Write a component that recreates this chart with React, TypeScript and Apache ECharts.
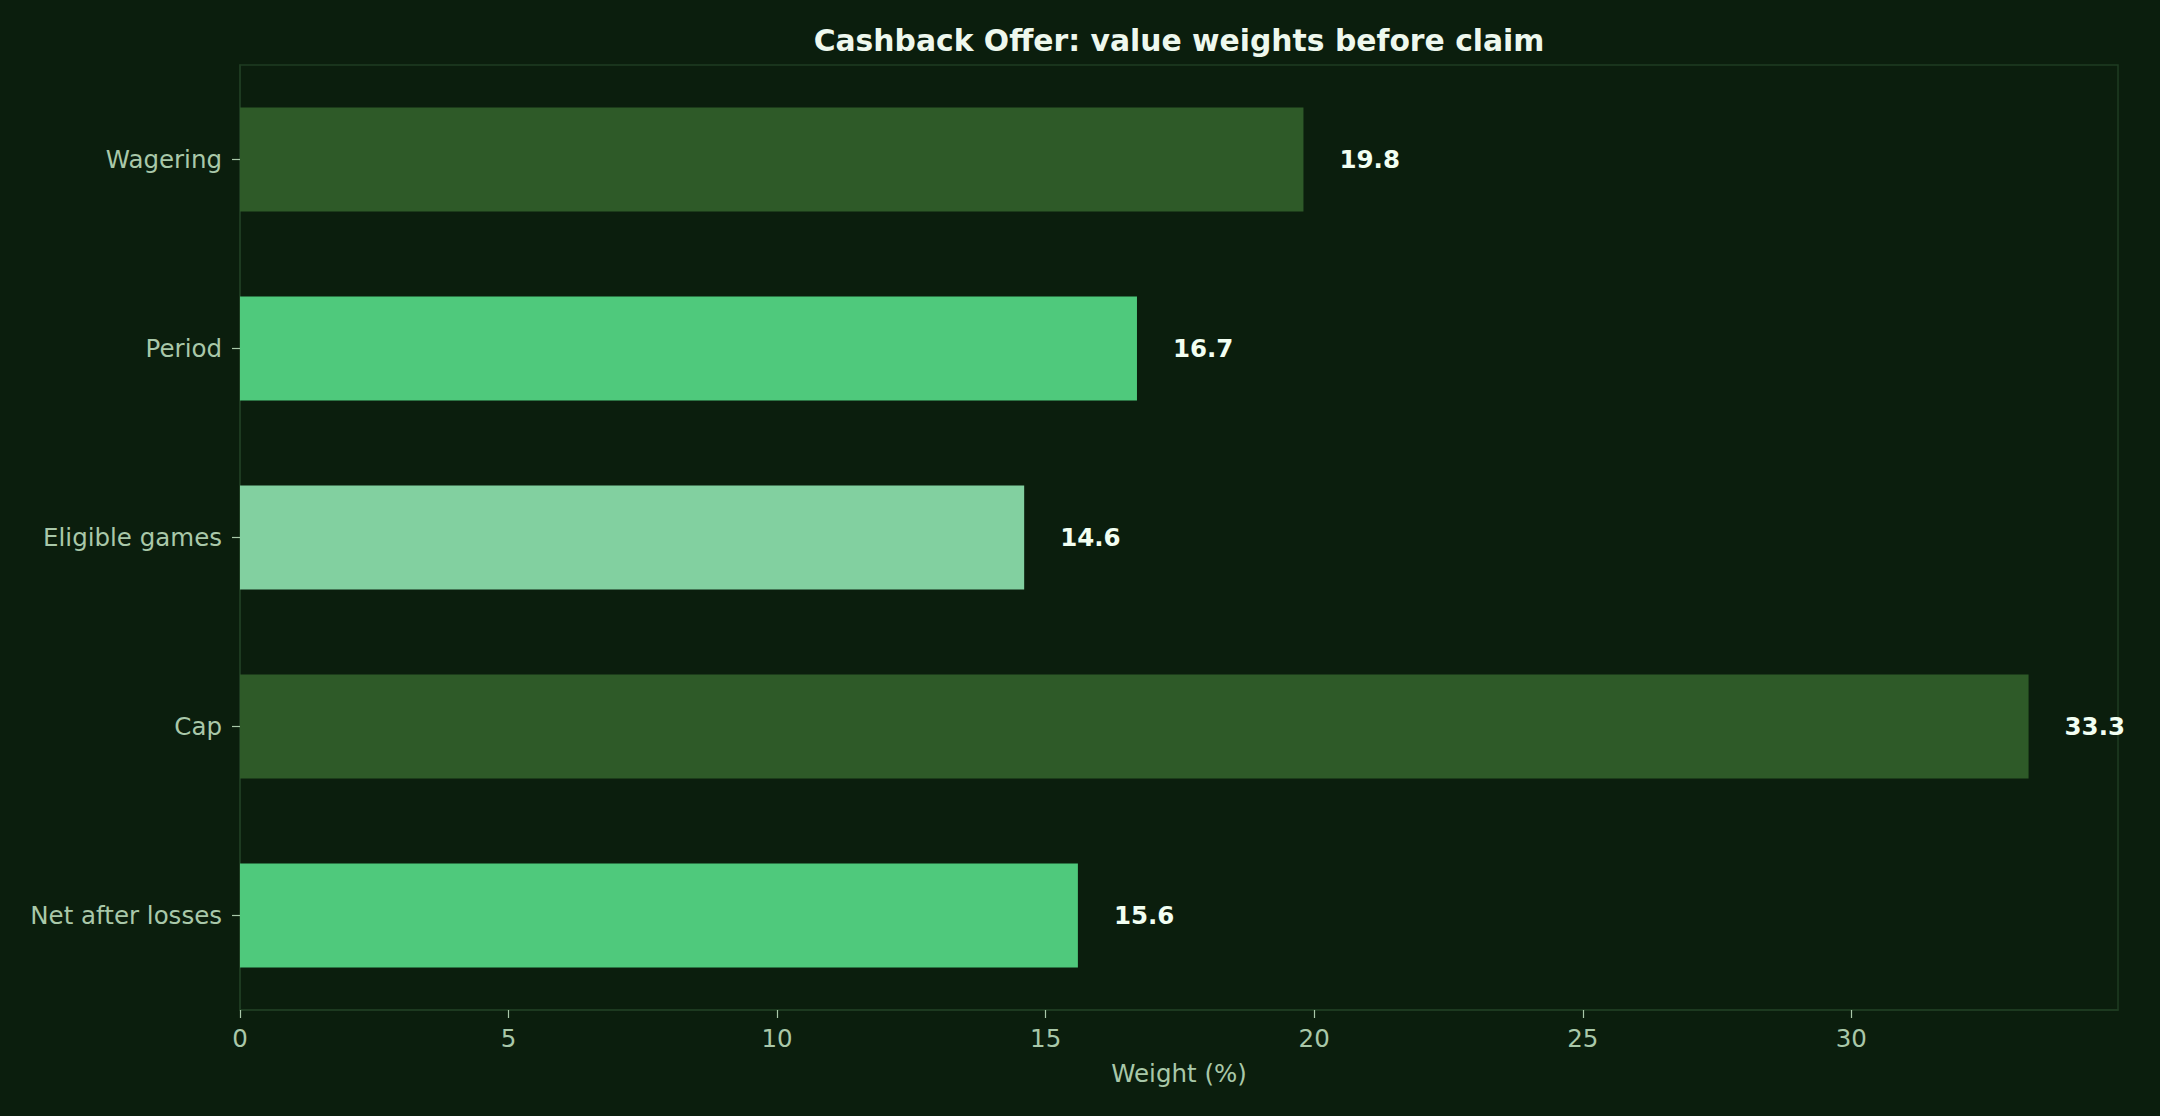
import React, { useEffect, useRef } from 'react';
import * as echarts from 'echarts';

const categories = ['Wagering', 'Period', 'Eligible games', 'Cap', 'Net after losses'];
const weights = [19.8, 16.7, 14.6, 33.3, 15.6];
const barColors = ['#2e5a28', '#4fc97c', '#82d0a0', '#2e5a28', '#4fc97c'];
const xTicks = [0, 5, 10, 15, 20, 25, 30];

const BG = '#0b1e0d';
const SPINE = '#1f3d22';
const TICK_TEXT = '#a9c8a9';
const FONT = '"DejaVu Sans", sans-serif';

const App: React.FC = () => {
  const chartRef = useRef<HTMLDivElement>(null);

  useEffect(() => {
    if (!chartRef.current) return;
    const chart = echarts.init(chartRef.current, undefined, { renderer: 'svg' });

    const option = {
      animation: false,
      backgroundColor: BG,
      textStyle: { fontFamily: FONT },
      title: {
        text: 'Cashback Offer: value weights before claim',
        left: 1174,
        textAlign: 'center',
        top: 20,
        textStyle: {
          color: '#eef8ee',
          fontSize: 29.8,
          fontWeight: 'bold',
          fontFamily: FONT
        }
      },
      grid: {
        left: 240,
        right: 42,
        top: 65,
        bottom: 106,
        show: true,
        borderColor: SPINE,
        borderWidth: 1.5,
        backgroundColor: 'transparent'
      },
      xAxis: {
        type: 'value',
        min: 0,
        max: 34.965,
        name: 'Weight (%)',
        nameLocation: 'middle',
        nameGap: 51,
        nameTextStyle: { color: TICK_TEXT, fontSize: 24.5, fontFamily: FONT },
        axisLine: { show: true, lineStyle: { color: SPINE, width: 1.5 } },
        axisTick: {
          show: true,
          length: 8,
          customValues: xTicks,
          lineStyle: { color: TICK_TEXT, width: 1.2 }
        },
        axisLabel: {
          color: TICK_TEXT,
          fontSize: 24.5,
          fontFamily: FONT,
          margin: 16,
          customValues: xTicks
        },
        splitLine: { show: false }
      },
      yAxis: {
        type: 'category',
        data: categories,
        inverse: true,
        axisLine: { show: true, lineStyle: { color: SPINE, width: 1.5 } },
        axisTick: {
          show: true,
          length: 8,
          alignWithLabel: true,
          lineStyle: { color: TICK_TEXT, width: 1.2 }
        },
        axisLabel: {
          color: TICK_TEXT,
          fontSize: 24.5,
          fontFamily: FONT,
          margin: 18
        },
        splitLine: { show: false }
      },
      series: [
        {
          type: 'bar',
          barWidth: '55%',
          data: weights.map((v, i) => ({
            value: v,
            itemStyle: { color: barColors[i] }
          })),
          label: {
            show: true,
            position: 'right',
            distance: 36,
            color: '#f2fff2',
            fontSize: 24.5,
            fontWeight: 'bold',
            fontFamily: FONT,
            formatter: (p: any) => p.value.toFixed(1)
          }
        }
      ]
    };

    chart.setOption(option);

    return () => {
      chart.dispose();
    };
  }, []);

  return (
    <div
      ref={chartRef}
      style={{ position: 'fixed', left: 0, top: 0, width: '2160px', height: '1116px' }}
    />
  );
};

export default App;
